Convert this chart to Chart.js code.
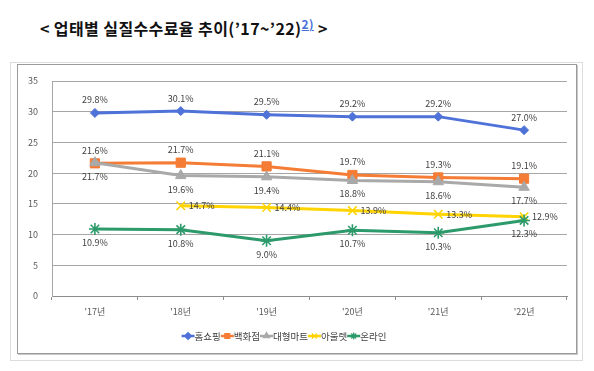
<!DOCTYPE html>
<html><head><meta charset="utf-8">
<script src="https://cdn.jsdelivr.net/npm/chart.js@4.4.0/dist/chart.umd.min.js"></script>
<style>
html,body{margin:0;padding:0;background:#fff;width:594px;height:371px;overflow:hidden;}
#title{position:absolute;left:40px;top:16px;font-family:"Noto Sans CJK KR","Noto Sans",sans-serif;font-weight:bold;font-size:16px;color:#111;white-space:nowrap;letter-spacing:0.4px;}
#title sup{color:#4a6fd8;font-size:12px;text-decoration:underline;vertical-align:6px;line-height:0;}
#outer{position:absolute;left:10px;top:62px;width:571px;height:297px;border:1px solid #dcdcdc;}
#inner{position:absolute;left:17px;top:64px;width:558px;height:288px;border:1px solid #9a9a9a;box-shadow:1px 1px 0 #c8c8c8;}
canvas{position:absolute;left:0;top:0;}
</style></head>
<body>
<div id="title">&lt; 업태별 실질수수료율 추이(’17~’22)<sup>2)</sup> &gt;</div>
<div id="outer"></div>
<div id="inner"></div>
<canvas id="c" width="594" height="371"></canvas>
<script>
const categories = ["'17년","'18년","'19년","'20년","'21년","'22년"];
const seriesNames = ["홈쇼핑","백화점","대형마트","아울렛","온라인"];
const homeShopping = [29.8, 30.1, 29.5, 29.2, 29.2, 27.0];
const departmentStore = [21.6, 21.7, 21.1, 19.7, 19.3, 19.1];
const largeMart = [21.7, 19.6, 19.4, 18.8, 18.6, 17.7];
const outlet = [null, 14.7, 14.4, 13.9, 13.3, 12.9];
const online = [10.9, 10.8, 9.0, 10.7, 10.3, 12.3];
const yTicks = [0, 5, 10, 15, 20, 25, 30, 35];

const FONT = '"Noto Sans CJK KR","Noto Sans",sans-serif';
const colors = ['#4f72d8', '#f47c35', '#a9a9a9', '#ffd400', '#2c9a6a'];
const styles = ['rectRot', 'rect', 'triangle', 'crossRot', 'star'];
const radii = [4.5, 6.5, 6, 6, 6];
const labelPos = ['above', 'above', 'below', 'right', 'below'];
const values = [homeShopping, departmentStore, largeMart, outlet, online];

const datasets = seriesNames.map((n, i) => ({
  label: n,
  data: values[i],
  borderColor: colors[i],
  backgroundColor: colors[i],
  pointBackgroundColor: colors[i],
  pointBorderColor: colors[i],
  pointStyle: styles[i],
  pointRadius: radii[i],
  pointBorderWidth: (i >= 3) ? 1.6 : 1,
  borderWidth: 3,
  tension: 0,
  spanGaps: false,
  order: 5 - i
}));

const labelPlugin = {
  id: 'labels',
  afterDatasetsDraw(chart) {
    const ctx = chart.ctx;
    ctx.save();
    ctx.font = '9px ' + FONT;
    ctx.fillStyle = '#404040';
    chart.data.datasets.forEach((ds, i) => {
      const meta = chart.getDatasetMeta(i);
      meta.data.forEach((pt, j) => {
        const v = ds.data[j];
        if (v == null) return;
        const txt = v.toFixed(1) + '%';
        const p = labelPos[i];
        if (p === 'above') { ctx.textAlign = 'center'; ctx.textBaseline = 'middle'; ctx.fillText(txt, pt.x, pt.y - 13); }
        else if (p === 'below') { ctx.textAlign = 'center'; ctx.textBaseline = 'middle'; ctx.fillText(txt, pt.x, pt.y + 13.5); }
        else { ctx.textAlign = 'left'; ctx.textBaseline = 'middle'; ctx.fillText(txt, pt.x + 8, pt.y); }
      });
    });
    ctx.restore();
  },
  afterDraw(chart) {
    const ctx = chart.ctx;
    ctx.save();
    ctx.font = '9.5px ' + FONT;
    const segW = 13;
    const widths = seriesNames.map(n => segW + ctx.measureText(n).width);
    const total = widths.reduce((a, b) => a + b, 0);
    let x = 284 - total / 2;
    const y = 336;
    seriesNames.forEach((n, i) => {
      ctx.strokeStyle = colors[i];
      ctx.fillStyle = colors[i];
      ctx.lineWidth = 2.5;
      ctx.beginPath(); ctx.moveTo(x, y); ctx.lineTo(x + segW, y); ctx.stroke();
      ctx.lineWidth = 1.2;
      Chart.helpers.drawPoint(ctx, {pointStyle: styles[i], radius: 3.5, rotation: 0, borderWidth: 1.2}, x + segW / 2, y);
      ctx.fillStyle = '#404040';
      ctx.textAlign = 'left'; ctx.textBaseline = 'middle';
      ctx.fillText(n, x + segW, y);
      x += widths[i];
    });
    ctx.restore();
  }
};

new Chart(document.getElementById('c'), {
  type: 'line',
  data: { labels: categories, datasets },
  options: {
    responsive: false,
    animation: false,
    layout: { padding: { top: 81, left: 0, right: 27, bottom: 0 } },
    plugins: { legend: { display: false }, tooltip: { enabled: false } },
    scales: {
      x: {
        offset: true,
        grid: { display: true, drawOnChartArea: false, drawTicks: true, tickLength: 4, color: '#8c8c8c', offset: true },
        border: { display: true, color: '#8c8c8c', width: 1 },
        ticks: { font: { family: FONT, size: 9 }, color: '#595959', padding: 6, maxRotation: 0 },
        afterFit(s) { s.height = 75; }
      },
      y: {
        min: 0, max: 35,
        afterBuildTicks(s) { s.ticks = yTicks.map(v => ({ value: v })); },
        grid: { color: '#a6a6a6', drawTicks: false, lineWidth: 1 },
        border: { display: true, color: '#a6a6a6', width: 1 },
        ticks: { font: { family: FONT, size: 9 }, color: '#595959', padding: 14 },
        afterFit(s) { s.width = 52; }
      }
    }
  },
  plugins: [labelPlugin]
});
</script>
</body></html>
